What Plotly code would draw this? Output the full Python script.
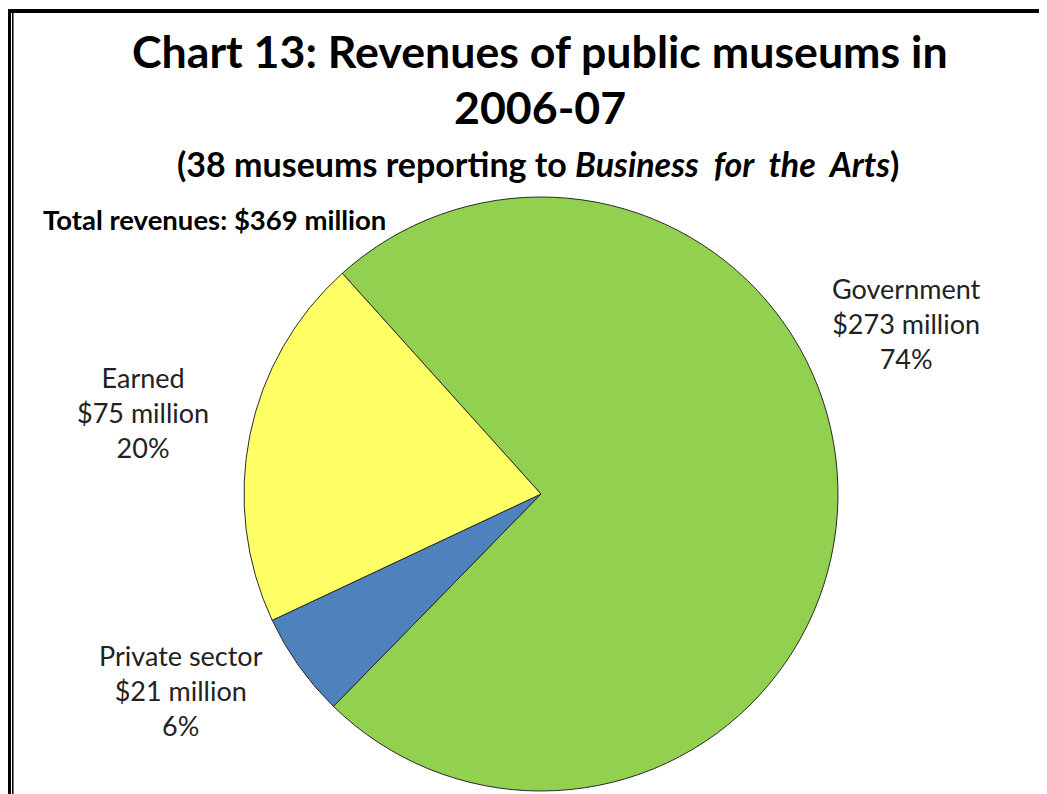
import plotly.graph_objects as go

labels = ["Government", "Private sector", "Earned"]
values = [273, 21, 75]
label_money = ["$273 million", "$21 million", "$75 million"]
label_pct = ["74%", "6%", "20%"]
colors = ["#92D050", "#4F81BD", "#FFFF66"]
label_pos = [(906, 324), (181, 690), (143, 412)]  # pixel centres of text blocks

OFF = 8  # default page margin around the plot div
W, H = 1047 - OFF, 794 - OFF
FONT = "Lato"


def px(x, y):
    return (x - OFF) / W, 1 - (y - OFF) / H


fig = go.Figure()
x0, y1 = px(244, 197)
x1, y0 = px(838, 791)
fig.add_trace(go.Pie(
    labels=labels, values=values, sort=False, direction="clockwise",
    rotation=318, textinfo="none", hoverinfo="label+value+percent",
    marker=dict(colors=colors, line=dict(color="#2b2b2b", width=1)),
    domain=dict(x=[x0, x1], y=[max(y0, 0), y1]),
    showlegend=False,
))

anns = []
x, y = px(540, 51)
anns.append(dict(x=x, y=y, text="<b>Chart 13: Revenues of public museums in</b>",
                 font=dict(size=44.7, family=FONT, color="black")))
x, y = px(540, 107)
anns.append(dict(x=x, y=y, text="<b>2006-07</b>", font=dict(size=44.7, family=FONT, color="black")))
x, y = px(538, 163)
anns.append(dict(x=x, y=y,
                 text="<b>(38 museums reporting to <i>Business&nbsp; for&nbsp; the&nbsp; Arts</i>)</b>",
                 font=dict(size=34, family=FONT, color="black")))
x, y = px(41, 219)
anns.append(dict(x=x, y=y, text="<b>Total revenues: $369 million</b>", xanchor="left",
                 font=dict(size=27.5, family=FONT, color="black")))
for lab, m, p, (lx, ly) in zip(labels, label_money, label_pct, label_pos):
    x, y = px(lx, ly)
    anns.append(dict(x=x, y=y, text=f"{lab}<br>{m}<br>{p}",
                     font=dict(size=27, family=FONT, color="#222222")))
for a in anns:
    a.setdefault("xanchor", "center")
    a.update(xref="paper", yref="paper", showarrow=False, yanchor="middle")

shapes = [
    dict(type="line", xref="paper", yref="paper", x0=px(8, 0)[0], x1=1, y0=px(0, 11)[1], y1=px(0, 11)[1],
         line=dict(color="black", width=4)),
    dict(type="line", xref="paper", yref="paper", x0=px(9.5, 0)[0], x1=px(9.5, 0)[0], y0=0, y1=px(0, 9)[1],
         line=dict(color="black", width=3)),
    dict(type="line", xref="paper", yref="paper", x0=px(12.8, 0)[0], x1=px(12.8, 0)[0], y0=0, y1=px(0, 12)[1],
         line=dict(color="black", width=1.5)),
]

fig.update_layout(
    width=W, height=H, margin=dict(l=0, r=0, t=0, b=0),
    paper_bgcolor="white", plot_bgcolor="white",
    annotations=anns, shapes=shapes,
)
fig.write_html("out.html")
